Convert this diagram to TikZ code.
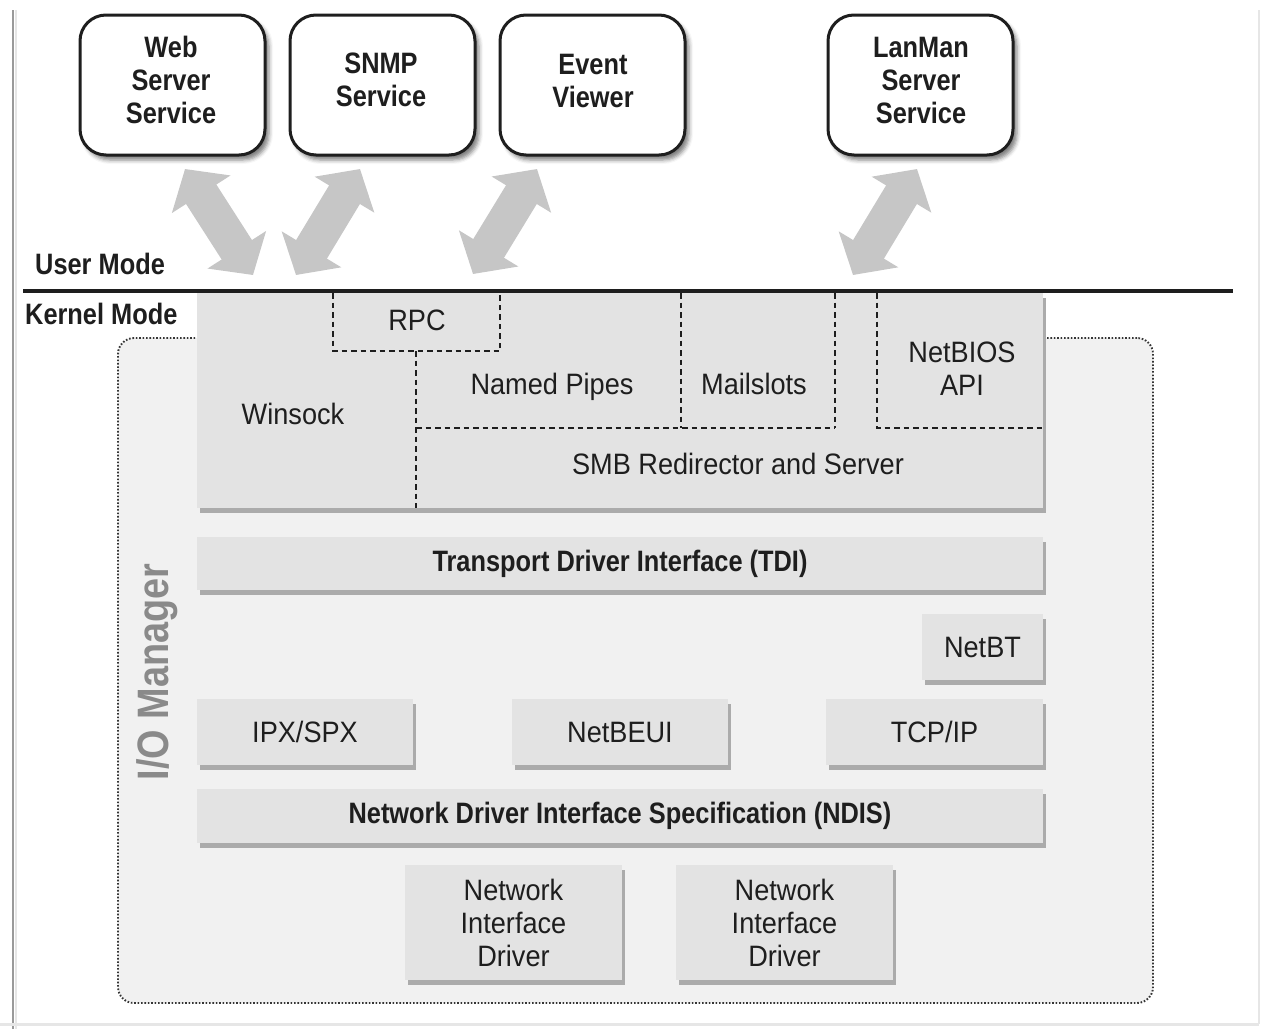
\documentclass[tikz,border=0pt]{standalone}
\usepackage{fontspec}
\setmainfont{Liberation Sans}[FakeStretch=0.92,BoldFeatures={FakeStretch=0.86}]
\usetikzlibrary{arrows.meta,shadows,shadows.blur}

\definecolor{ink}{HTML}{1E1E1E}
\definecolor{boxgray}{HTML}{E3E3E3}
\definecolor{shadowgray}{HTML}{ABABAB}
\definecolor{iofill}{HTML}{F1F1F1}
\definecolor{arrowgray}{HTML}{C6C6C6}
\definecolor{labelgray}{HTML}{8A8A8A}
\definecolor{framegray}{HTML}{9A9A9A}
\definecolor{framelight}{HTML}{E6E6E6}

\begin{document}
\begin{tikzpicture}[x=1pt,y=-1pt,
  font=\fontsize{29.5}{33}\selectfont,
  svcbox/.style={draw=ink, line width=3pt, fill=white, rounded corners=26pt,
    minimum width=185pt, minimum height=140pt, inner sep=0pt,
    blur shadow={shadow xshift=4pt, shadow yshift=-5pt, shadow blur radius=4pt, shadow opacity=50}},
  svctext/.style={align=center, text=ink, inner sep=0pt, font=\fontsize{29.5}{33}\selectfont\bfseries},
  gbox/.style={fill=boxgray, inner sep=0pt, align=center, text=ink,
    drop shadow={shadow xshift=3pt, shadow yshift=-5pt, fill=shadowgray, opacity=1}},
  plain/.style={text=ink, inner sep=0pt, align=center},
  oneline/.style={plain, text height=21pt, text depth=6pt},
  heavy/.style={text=ink, inner sep=0pt, font=\fontsize{29.5}{33}\selectfont\bfseries},
  split/.style={draw=ink, line width=1.7pt, dash pattern=on 5.5pt off 4pt},
  bigarrow/.style={draw=arrowgray, line width=36pt,
    {Triangle[width=68pt,length=30pt]}-{Triangle[width=68pt,length=30pt]}},
]
\useasboundingbox (0,0) rectangle (1266,1029);

% page frame
\draw[framegray, line width=1.5pt] (13,10) -- (13,1029);
\draw[framelight, line width=1.5pt] (16,10) -- (16,1029);
\draw[framelight, line width=1.5pt] (1259,10) -- (1259,1024);
\draw[framelight, line width=3pt] (0,1024) -- (1259,1024);

% user-mode services
\node[svcbox] (web) at (172.5,85) {};
\node[svcbox] (snmp) at (382.5,85) {};
\node[svcbox] (event) at (592.5,85) {};
\node[svcbox] (lanman) at (920.5,85) {};
\node[svctext] (webt) at (171,80) {Web\\Server\\Service};
\node[svctext] (snmpt) at (381,80) {SNMP\\Service};
\node[svctext] (eventt) at (593,81) {Event\\Viewer};
\node[svctext] (lanmant) at (921,80.5) {LanMan\\Server\\Service};

% mode boundary
\coordinate (ruleL) at (23,291);
\coordinate (ruleR) at (1233,291);
\draw[ink, line width=4pt] (ruleL) -- (ruleR);
\node[heavy, anchor=west] (umode) at (35,264) {User Mode};
\node[heavy, anchor=west] (kmode) at (25,314) {Kernel Mode};

% I/O manager region
\node[draw=ink!90, fill=iofill, line width=1.9pt, dash pattern=on 1.6pt off 1.8pt,
  rounded corners=16pt, minimum width=1035pt, minimum height=665pt, inner sep=0pt]
  (io) at (635.5,670.5) {};
\node[rotate=90, text=labelgray, inner sep=0pt,
  font=\fontsize{44}{48}\selectfont\bfseries] (iolbl) at (157,672) {I/O Manager};

% upper kernel block with its internal divisions
\node[gbox, minimum width=846pt, minimum height=215pt] (kern) at (620,400.5) {};
\draw[split] (333,293) -- (333,351) -- (500,351) -- (500,293);
\draw[split] (416,351) -- (416,508);
\draw[split] (416,428) -- (835,428);
\draw[split] (681,293) -- (681,428);
\draw[split] (835,293) -- (835,428);
\draw[split] (877,293) -- (877,428) -- (1043,428);
\node[oneline] (rpc) at (417,323) {RPC};
\node[oneline] (winsock) at (293,417) {Winsock};
\node[oneline] (pipes) at (552,387) {Named Pipes};
\node[oneline] (mailslots) at (754,387) {Mailslots};
\node[plain] (netbios) at (962,368.5) {NetBIOS\\API};
\node[oneline] (smb) at (738,467) {SMB Redirector and Server};

% transport and driver layers
\node[gbox, minimum width=846pt, minimum height=53pt, font=\fontsize{29.5}{33}\selectfont\bfseries]
  (tdi) at (620,563.5) {Transport Driver Interface (TDI)};
\node[gbox, minimum width=121pt, minimum height=66pt] (netbt) at (982.5,647) {NetBT};
\node[gbox, minimum width=216pt, minimum height=66pt] (ipx) at (305,732) {IPX/SPX};
\node[gbox, minimum width=216pt, minimum height=66pt] (netbeui) at (620,732) {NetBEUI};
\node[gbox, minimum width=217pt, minimum height=66pt] (tcpip) at (934.5,732) {TCP/IP};
\node[gbox, minimum width=846pt, minimum height=54pt, font=\fontsize{29.5}{33}\selectfont\bfseries]
  (ndis) at (620,816) {Network Driver Interface Specification (NDIS)};
\node[gbox, minimum width=217pt, minimum height=115pt] (nic1) at (513.5,922.5) {Network\\Interface\\Driver};
\node[gbox, minimum width=217pt, minimum height=115pt] (nic2) at (784.5,922.5) {Network\\Interface\\Driver};

% user/kernel crossings
\coordinate (a1u) at (185,169);
\coordinate (a1k) at (253,275);
\coordinate (a2u) at (360,169);
\coordinate (a2k) at (296,275);
\coordinate (a3u) at (537,169);
\coordinate (a3k) at (473,274);
\coordinate (a4u) at (917,169);
\coordinate (a4k) at (853,275);
\draw[bigarrow] (a1u) -- (a1k);
\draw[bigarrow] (a2u) -- (a2k);
\draw[bigarrow] (a3u) -- (a3k);
\draw[bigarrow] (a4u) -- (a4k);
\end{tikzpicture}
\end{document}
